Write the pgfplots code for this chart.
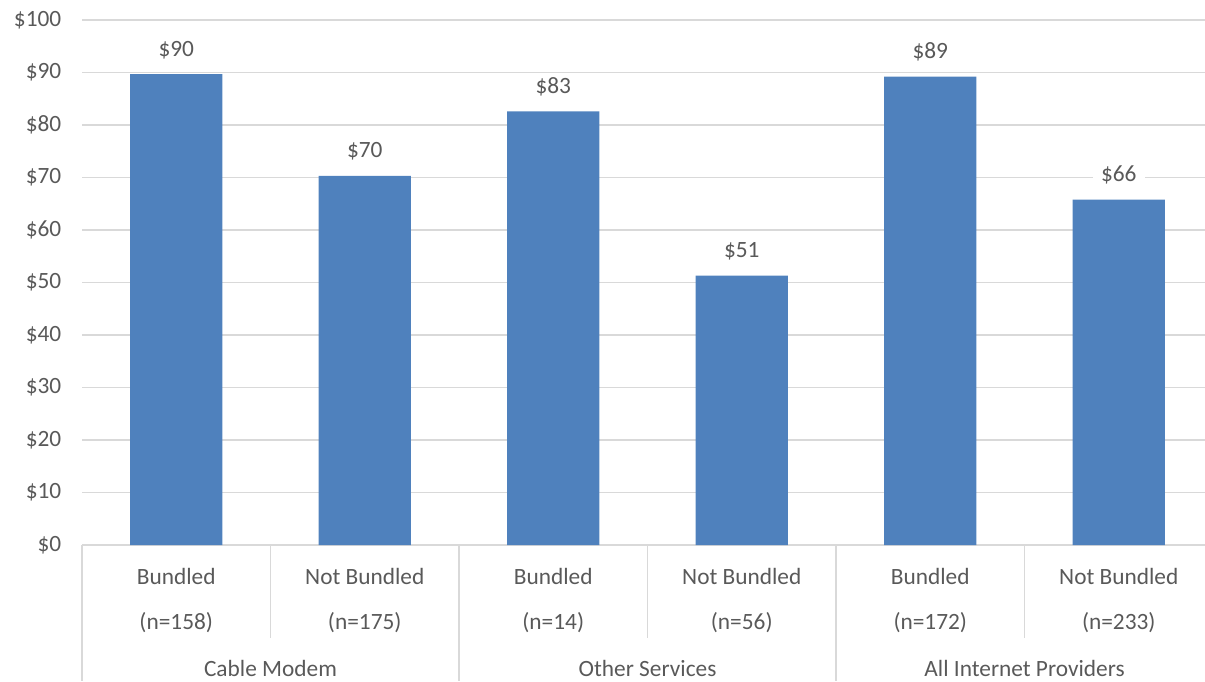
\documentclass[border=0pt]{standalone}
\usepackage{pgfplots}
\pgfplotsset{compat=1.18}
\usepackage{fontspec}
\setmainfont{Carlito}
\definecolor{barblue}{HTML}{4F81BD}
\definecolor{txt}{HTML}{595959}
\definecolor{gridc}{HTML}{D9D9D9}
\newcommand{\fs}{\fontsize{17.5}{21}\selectfont}
\begin{document}
\begin{tikzpicture}
\useasboundingbox (-61.5pt,-102pt) rectangle (842.25pt,408.75pt);
\begin{axis}[
  at={(0,0)}, anchor=south west,
  scale only axis, width=848.25pt, height=393.75pt,
  xmin=-0.5, xmax=5.5, ymin=0, ymax=100,
  ytick={0,10,...,100},
  xtick={0,1,2,3,4,5},
  xticklabels={Bundled\\[12.75pt](n=158),Not Bundled\\[12.75pt](n=175),Bundled\\[12.75pt](n=14),Not Bundled\\[12.75pt](n=56),Bundled\\[12.75pt](n=172),Not Bundled\\[12.75pt](n=233)},
  xticklabel style={align=center, font=\fs, text=txt, yshift=-14pt},
  yticklabel={\$\pgfmathprintnumber[assume math mode=true]{\tick}},
  yticklabel style={font=\fs, text=txt, xshift=-12pt},
  major tick length=0pt,
  tick style={draw=none},
  ymajorgrids, grid style={gridc, line width=0.9pt},
  axis x line*=bottom, axis y line*=left,
  x axis line style={gridc, line width=0.9pt},
  y axis line style={draw=none},
  clip=false,
  ybar, bar width=0.49,
  nodes near coords={\$\pgfmathprintnumber[fixed,precision=0,assume math mode=true]{\pgfplotspointmeta}},
  every node near coord/.append style={font=\fs, text=txt, fill=white, inner xsep=6pt, anchor=south, yshift=8pt},
]
\addplot[fill=barblue, draw=none] coordinates {(0,89.7) (1,70.3) (2,82.6) (3,51.3) (4,89.2) (5,65.8)};
\draw[gridc, line width=0.9pt] (axis cs:-0.5,0) -- ([yshift=-102pt]axis cs:-0.5,0);
\draw[gridc, line width=0.9pt] (axis cs:1.5,0) -- ([yshift=-102pt]axis cs:1.5,0);
\draw[gridc, line width=0.9pt] (axis cs:3.5,0) -- ([yshift=-102pt]axis cs:3.5,0);
\draw[gridc, line width=0.9pt] (axis cs:0.5,0) -- ([yshift=-70pt]axis cs:0.5,0);
\draw[gridc, line width=0.9pt] (axis cs:2.5,0) -- ([yshift=-70pt]axis cs:2.5,0);
\draw[gridc, line width=0.9pt] (axis cs:4.5,0) -- ([yshift=-70pt]axis cs:4.5,0);
\node[font=\fs, text=txt] at ([yshift=-92.25pt]axis cs:0.5,0) {Cable Modem};
\node[font=\fs, text=txt] at ([yshift=-92.25pt]axis cs:2.5,0) {Other Services};
\node[font=\fs, text=txt] at ([yshift=-92.25pt]axis cs:4.5,0) {All Internet Providers};
\end{axis}
\end{tikzpicture}
\end{document}
